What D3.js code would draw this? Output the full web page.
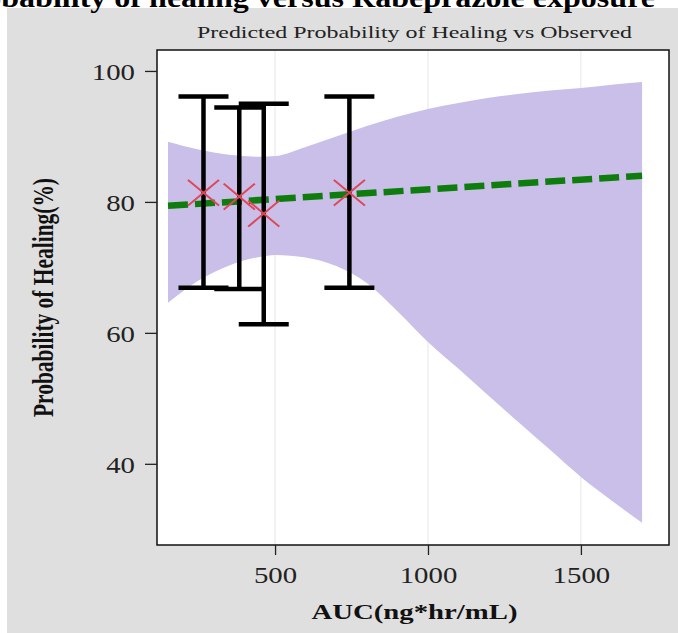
<!DOCTYPE html>
<html>
<head>
<meta charset="utf-8">
<script src="https://cdn.jsdelivr.net/npm/d3@7"></script>
<style>
  body { margin: 0; background: #fff; }
  text { font-family: "Liberation Serif", "Times New Roman", serif; }
</style>
</head>
<body>
<div id="chart"></div>
<script>
// confidence band of the predicted probability (AUC grid, lower and upper %)
var bandAUC   = [150, 250, 350, 450, 500, 600, 700, 800, 900, 1000, 1100, 1200, 1300, 1400, 1500, 1600, 1700];
var bandLower = [64.6, 68.0, 70.3, 71.6, 71.9, 71.5, 70.2, 67.6, 63.3, 58.6, 54.5, 50.3, 46.2, 42.1, 38.0, 34.4, 31.0];
var bandUpper = [89.2, 88.0, 87.2, 86.9, 87.0, 88.4, 90.0, 91.6, 93.0, 94.2, 95.1, 95.9, 96.5, 97.0, 97.4, 97.9, 98.3];

// predicted line
var predAUC = [150, 1700];
var predVal = [79.4, 84.0];

// observed (by exposure group) with error bars
var obsAUC = [266, 383, 463, 743];
var obsVal = [81.4, 80.8, 78.2, 81.4];
var obsLow = [66.9, 66.7, 61.3, 66.9];
var obsHigh = [96.1, 94.4, 95.0, 96.1];

var xTicks = [500, 1000, 1500];
var yTicks = [40, 60, 80, 100];

var W = 678, H = 633;
var panel = {left: 157, top: 50, right: 669, bottom: 545};
var stretch = 1.2;

var svg = d3.select("#chart").append("svg")
    .attr("width", W)
    .attr("height", H);

// grey outer background
svg.append("rect")
    .attr("x", 7).attr("y", 8)
    .attr("width", W - 7).attr("height", H - 8)
    .attr("fill", "#dfdfdf");

// main title, clipped at the top of the page
svg.append("text")
    .attr("x", -48).attr("y", 6.5)
    .attr("font-size", 27)
    .attr("font-weight", "bold")
    .attr("textLength", 703)
    .attr("lengthAdjust", "spacingAndGlyphs")
    .text("Probability of healing versus Rabeprazole exposure");

svg.append("text")
    .attr("x", 414.5).attr("y", 38)
    .attr("text-anchor", "middle")
    .attr("font-size", 17)
    .attr("fill", "#222")
    .attr("textLength", 435)
    .attr("lengthAdjust", "spacingAndGlyphs")
    .text("Predicted Probability of Healing vs Observed");

var x = d3.scaleLinear()
    .domain([114, 1788])
    .range([panel.left, panel.right]);

var y = d3.scaleLinear()
    .domain([27.6, 103.2])
    .range([panel.bottom, panel.top]);

// white plotting area
svg.append("rect")
    .attr("x", panel.left).attr("y", panel.top)
    .attr("width", panel.right - panel.left)
    .attr("height", panel.bottom - panel.top)
    .attr("fill", "#fff");

// vertical grid lines
svg.append("g")
    .selectAll("line")
    .data(xTicks)
    .enter()
    .append("line")
    .attr("x1", function(d) { return x(d); })
    .attr("x2", function(d) { return x(d); })
    .attr("y1", panel.top)
    .attr("y2", panel.bottom)
    .attr("stroke", "#e6e6e6")
    .attr("stroke-width", 1);

// confidence band
var band = bandAUC.map(function(a, i) {
    return {auc: a, lo: bandLower[i], hi: bandUpper[i]};
});

svg.append("path")
    .datum(band)
    .attr("fill", "#c9bfe9")
    .attr("d", d3.area()
        .curve(d3.curveMonotoneX)
        .x(function(d) { return x(d.auc); })
        .y0(function(d) { return y(d.lo); })
        .y1(function(d) { return y(d.hi); }));

// predicted line
var pred = predAUC.map(function(a, i) { return {auc: a, v: predVal[i]}; });

svg.append("path")
    .datum(pred)
    .attr("fill", "none")
    .attr("stroke", "#0e7d0e")
    .attr("stroke-width", 6.5)
    .attr("stroke-dasharray", "20,7")
    .attr("d", d3.line()
        .x(function(d) { return x(d.auc); })
        .y(function(d) { return y(d.v); }));

// observed error bars
var obs = obsAUC.map(function(a, i) {
    return {auc: a, v: obsVal[i], lo: obsLow[i], hi: obsHigh[i]};
});
var capHalf = 25;

var bars = svg.append("g")
    .attr("stroke", "#000")
    .attr("stroke-width", 4.5);

bars.selectAll(".stem")
    .data(obs)
    .enter()
    .append("line")
    .attr("class", "stem")
    .attr("x1", function(d) { return x(d.auc); })
    .attr("x2", function(d) { return x(d.auc); })
    .attr("y1", function(d) { return y(d.lo); })
    .attr("y2", function(d) { return y(d.hi); });

["lo", "hi"].forEach(function(k) {
    bars.selectAll(".cap-" + k)
        .data(obs)
        .enter()
        .append("line")
        .attr("class", "cap-" + k)
        .attr("x1", function(d) { return x(d.auc) - capHalf; })
        .attr("x2", function(d) { return x(d.auc) + capHalf; })
        .attr("y1", function(d) { return y(d[k]); })
        .attr("y2", function(d) { return y(d[k]); });
});

// observed markers
svg.append("g")
    .selectAll("path")
    .data(obs)
    .enter()
    .append("path")
    .attr("transform", function(d) {
        return "translate(" + x(d.auc) + "," + y(d.v) + ") scale(" + stretch + ",1)";
    })
    .attr("d", d3.symbol().type(d3.symbolX).size(440))
    .attr("fill", "none")
    .attr("stroke", "#e0465a")
    .attr("stroke-width", 1.8);

// panel border
svg.append("rect")
    .attr("x", panel.left).attr("y", panel.top)
    .attr("width", panel.right - panel.left)
    .attr("height", panel.bottom - panel.top)
    .attr("fill", "none")
    .attr("stroke", "#111")
    .attr("stroke-width", 1.5);

// axes
var xAxis = svg.append("g")
    .attr("transform", "translate(0," + panel.bottom + ")")
    .call(d3.axisBottom(x).tickValues(xTicks).tickFormat(d3.format("d"))
        .tickSizeInner(10).tickSizeOuter(0));

xAxis.select(".domain").remove();
xAxis.selectAll("line").attr("stroke", "#222").attr("stroke-width", 1.3);
xAxis.selectAll("text")
    .attr("y", 38)
    .attr("dy", null)
    .attr("font-size", 24)
    .attr("font-family", "Liberation Serif, serif")
    .attr("fill", "#222")
    .attr("transform", "scale(" + stretch + ",1)");

var yAxis = svg.append("g")
    .attr("transform", "translate(" + panel.left + ",0)")
    .call(d3.axisLeft(y).tickValues(yTicks).tickFormat(d3.format("d"))
        .tickSizeInner(12).tickSizeOuter(0));

yAxis.select(".domain").remove();
yAxis.selectAll("line").attr("stroke", "#222").attr("stroke-width", 1.3);
yAxis.selectAll("text")
    .attr("x", -22 / stretch)
    .attr("dy", "0.36em")
    .attr("font-size", 24)
    .attr("font-family", "Liberation Serif, serif")
    .attr("fill", "#222")
    .attr("transform", "scale(" + stretch + ",1)");

// axis titles
svg.append("text")
    .attr("x", 414.5).attr("y", 619)
    .attr("text-anchor", "middle")
    .attr("font-size", 22)
    .attr("font-weight", "bold")
    .attr("fill", "#111")
    .attr("textLength", 206)
    .attr("lengthAdjust", "spacingAndGlyphs")
    .text("AUC(ng*hr/mL)");

svg.append("text")
    .attr("transform", "translate(53,297.5) scale(" + stretch + ",1) rotate(-90)")
    .attr("text-anchor", "middle")
    .attr("font-size", 24)
    .attr("font-weight", "bold")
    .attr("fill", "#111")
    .attr("textLength", 239)
    .attr("lengthAdjust", "spacingAndGlyphs")
    .text("Probability of Healing(%)");
</script>
</body>
</html>
